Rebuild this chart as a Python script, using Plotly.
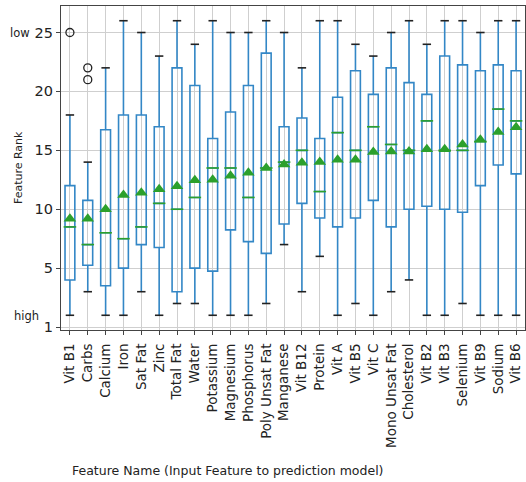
import plotly.graph_objects as go

# Feature rank distribution per input feature (rank 1 = most important)
features = ["Vit B1", "Carbs", "Calcium", "Iron", "Sat Fat", "Zinc", "Total Fat", "Water",
            "Potassium", "Magnesium", "Phosphorus", "Poly Unsat Fat", "Manganese", "Vit B12",
            "Protein", "Vit A", "Vit B5", "Vit C", "Mono Unsat Fat", "Cholesterol", "Vit B2",
            "Vit B3", "Selenium", "Vit B9", "Sodium", "Vit B6"]
whisker_low = [1, 3, 1, 1, 3, 1, 2, 2, 1, 1, 1, 2, 7, 3, 6, 1, 2, 1, 3, 4, 1, 1, 2, 1, 1, 1]
q1 = [4, 5.25, 3.5, 5, 7, 6.75, 3, 5, 4.75, 8.25, 7.25, 6.25, 8.75, 10.5, 9.25, 8.5, 9.25,
      10.75, 8.5, 10, 10.25, 10, 9.75, 12, 13.75, 13]
medians = [8.5, 7, 8, 7.5, 8.5, 10.5, 10, 11, 13.5, 13.5, 11, 13.5, 14, 15, 11.5, 16.5, 15,
           17, 15.5, 15, 17.5, 15, 15, 15.75, 18.5, 17.5]
q3 = [12, 10.75, 16.75, 18, 18, 17, 22, 20.5, 16, 18.25, 20.5, 23.25, 17, 17.75, 16, 19.5,
      21.75, 19.75, 22, 20.75, 19.75, 23, 22.25, 21.75, 22.25, 21.75]
whisker_high = [18, 14, 22, 26, 25, 23, 26, 24, 26, 25, 25, 26, 25, 22, 26, 26, 24, 23, 25,
                26, 24, 26, 26, 25, 26, 26]
means = [9.2, 9.2, 10.0, 11.2, 11.4, 11.7, 11.95, 12.45, 12.5, 12.85, 13.1, 13.5, 13.8, 13.95,
         14.0, 14.2, 14.2, 14.85, 14.9, 14.9, 15.1, 15.1, 15.5, 15.9, 16.55, 16.95]
outlier_features = ["Vit B1", "Carbs", "Carbs"]
outlier_values = [25, 22, 21]

y_tick_vals = [0, 5, 10, 15, 20, 25]
y_tick_text = ["1", "5", "10", "15", "20", "25"]

BLUE = "#3387c6"
GREEN = "#2ca02c"
FONT = "DejaVu Sans"

fig = go.Figure()

# Boxes and whiskers from the precomputed statistics
fig.add_trace(go.Box(
    x=features, q1=q1, median=medians, q3=q3,
    lowerfence=whisker_low, upperfence=whisker_high,
    width=0.55, whiskerwidth=0,
    line=dict(color=BLUE, width=1.6),
    fillcolor="rgba(255,255,255,0)",
    boxpoints=False, hoverinfo="skip", showlegend=False,
))

# Whisker caps
fig.add_trace(go.Scatter(
    x=features + features, y=whisker_low + whisker_high, mode="markers",
    marker=dict(symbol="line-ew", size=6, line=dict(color="#222222", width=1.6)),
    hoverinfo="skip", showlegend=False,
))

# Median lines
fig.add_trace(go.Scatter(
    x=features, y=medians, mode="markers",
    marker=dict(symbol="line-ew", size=9, line=dict(color=GREEN, width=1.6)),
    hoverinfo="skip", showlegend=False,
))

# Mean markers
fig.add_trace(go.Scatter(
    x=features, y=means, mode="markers",
    marker=dict(symbol="triangle-up", size=11, color=GREEN, line=dict(width=0)),
    showlegend=False,
))

# Outliers
fig.add_trace(go.Scatter(
    x=outlier_features, y=outlier_values, mode="markers",
    marker=dict(symbol="circle-open", size=8, color="#222222", line=dict(width=1.3)),
    showlegend=False,
))

axis_common = dict(
    showgrid=True, gridcolor="#cfcfcf", gridwidth=1,
    showline=True, linecolor="#444444", linewidth=1.2, mirror=True,
    ticks="outside", ticklen=4, tickcolor="#444444",
    zeroline=False,
)

fig.update_layout(
    width=526, height=482,
    margin=dict(l=61, r=1, t=6, b=152),
    plot_bgcolor="white", paper_bgcolor="white",
    xaxis=dict(axis_common, type="category", tickangle=-90, range=[-0.5, 25.5],
               categoryorder="array", categoryarray=features, ticklabelstandoff=3,
               tickfont=dict(family=FONT, size=13.5, color="#222222")),
    yaxis=dict(axis_common, range=[-0.25, 27.25], tickvals=y_tick_vals,
               ticktext=y_tick_text, tickfont=dict(family=FONT, size=14.5, color="#222222")),
    font=dict(family=FONT, color="#222222"),
    annotations=[
        dict(text="Feature Rank", textangle=-90, xref="paper", yref="paper",
             x=-43 / 465, y=0.5, xanchor="center", yanchor="middle", showarrow=False,
             font=dict(family=FONT, size=11)),
        dict(text="Feature Name (Input Feature to prediction model)", xref="paper",
             yref="paper", x=9 / 465, y=-140 / 324, xanchor="left", yanchor="middle",
             showarrow=False, font=dict(family=FONT, size=12.5)),
        dict(text="low", xref="paper", yref="y", x=-29 / 465, y=25, xanchor="right",
             yanchor="middle", showarrow=False, font=dict(family=FONT, size=11.5)),
        dict(text="high", xref="paper", yref="y", x=-20 / 465, y=0.9, xanchor="right",
             yanchor="middle", showarrow=False, font=dict(family=FONT, size=11.5)),
    ],
)

fig.write_html("out.html")
